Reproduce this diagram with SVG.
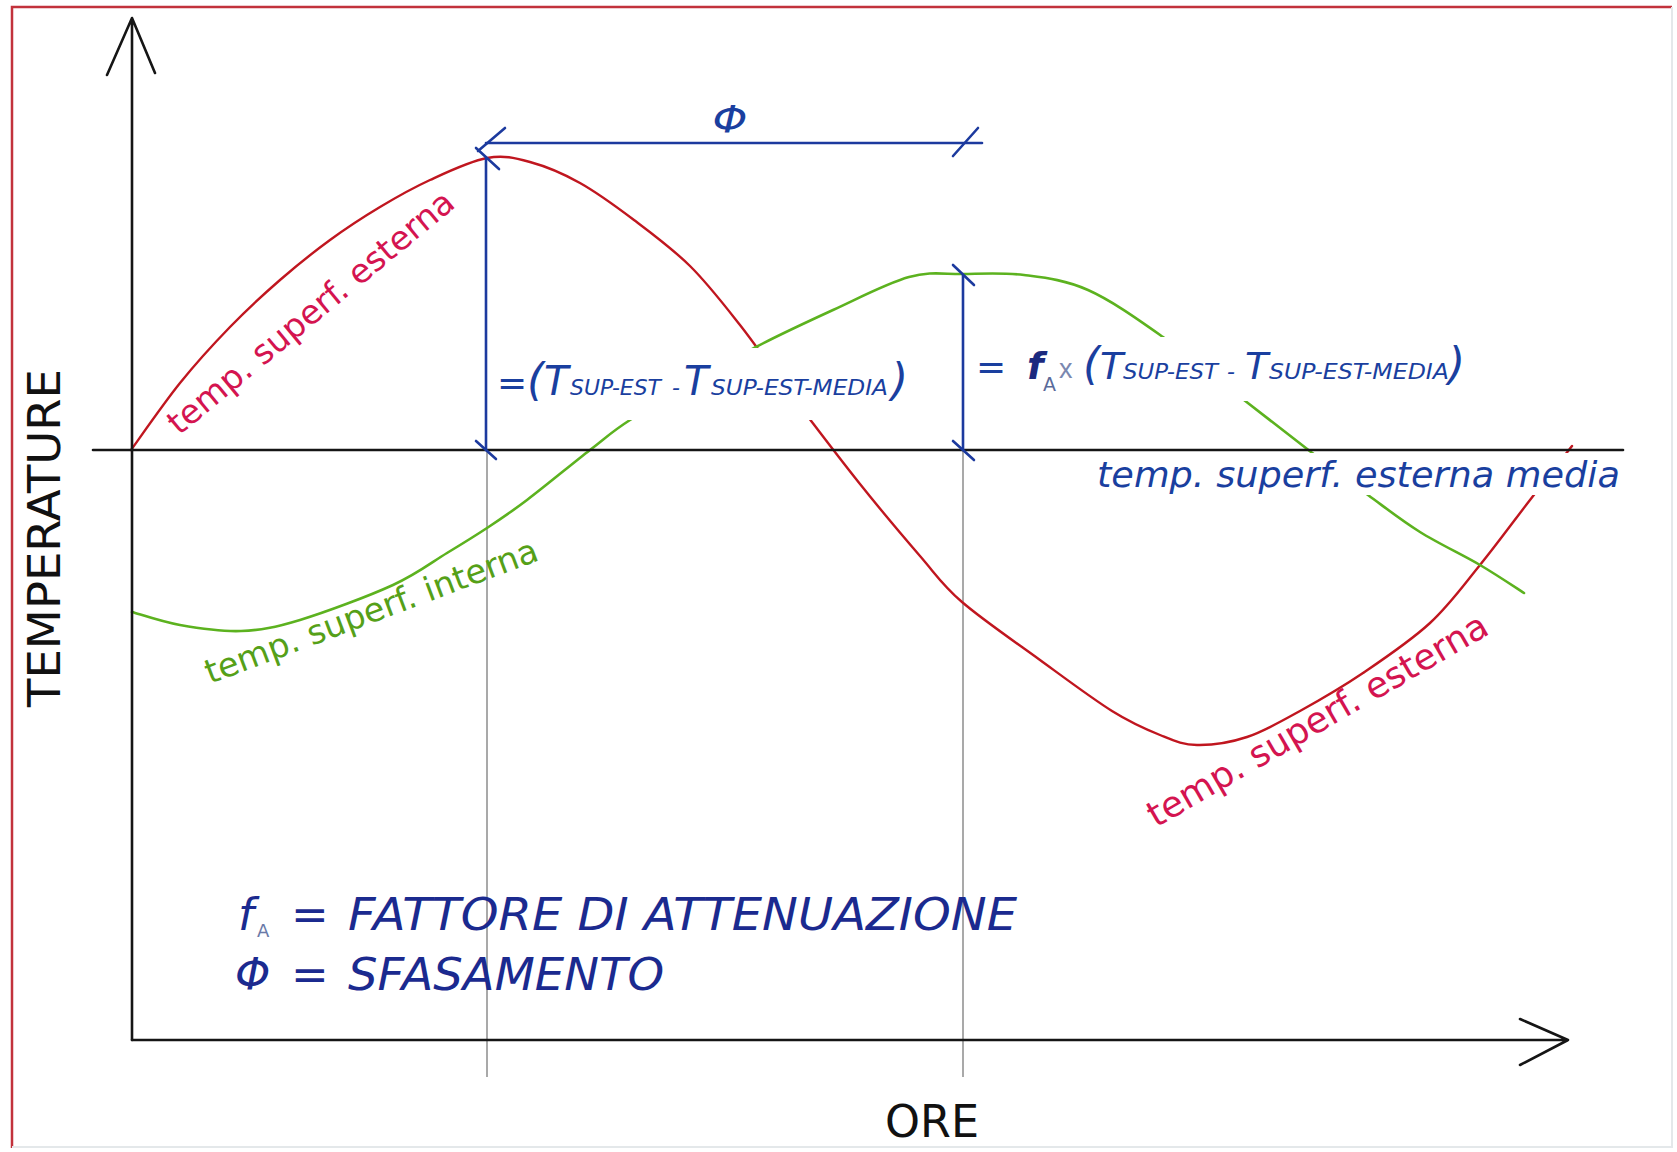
<svg xmlns="http://www.w3.org/2000/svg" width="1677" height="1152" viewBox="0 0 1677 1152">
<style>
text{font-family:"DejaVu Sans","Liberation Sans",sans-serif}
.ax{stroke:#151515;stroke-width:2.6;fill:none;stroke-linecap:round;stroke-linejoin:round}
.dim{stroke:#1c3a9e;stroke-width:2.6;fill:none;stroke-linecap:round}
.guide{stroke:#a9a9a9;stroke-width:2;fill:none}
.red{stroke:#c0161f;stroke-width:2.4;fill:none;stroke-linejoin:round;stroke-linecap:round}
.grn{stroke:#5cb21f;stroke-width:2.6;fill:none;stroke-linejoin:round;stroke-linecap:round}
.bt{fill:#1a3f9f;font-style:italic}
.lg{fill:#1b2a8f;font-style:italic;font-size:45px}
.rl{fill:#d41450}
.gl{fill:#55a018}
.mask{fill:#ffffff}
</style>
<rect x="0" y="0" width="1677" height="1152" fill="#ffffff"/>
<g id="frame">
<path d="M12 1148 V7 H1672" fill="none" stroke="#c2323c" stroke-width="2.5"/>
<path d="M1672 7 V1147 H12" fill="none" stroke="#e4e8ea" stroke-width="2"/>
</g>
<g id="guides">
<line class="guide" x1="487" y1="451" x2="487" y2="1077"/>
<line class="guide" x1="963" y1="451" x2="963" y2="1077"/>
</g>
<g id="curves">
<path id="curve-esterna" class="red" d="M131,450 C139,439 163.5,403.5 180,383 C196.5,362.5 213.3,344.2 230,327 C246.7,309.8 263.3,294.5 280,280 C296.7,265.5 313.3,252.2 330,240 C346.7,227.8 363.3,217 380,207 C396.7,197 412.2,188.2 430,180 C447.8,171.8 470.3,161 487,158 C503.7,155 514.5,157.8 530,162 C545.5,166.2 562.7,173.3 580,183 C597.3,192.7 615.7,206.2 634,220 C652.3,233.8 672.3,248.5 690,266 C707.7,283.5 723.3,303.8 740,325 C756.7,346.2 770,366.5 790,393 C810,419.5 838.3,456.8 860,484 C881.7,511.2 903,536.3 920,556 C937,575.7 942,584.7 962,602 C982,619.3 1015,641.8 1040,660 C1065,678.2 1092,698.5 1112,711 C1132,723.5 1145.8,729.3 1160,735 C1174.2,740.7 1182.5,744.7 1197,745 C1211.5,745.3 1229.8,742.7 1247,737 C1264.2,731.3 1280.7,721.7 1300,711 C1319.3,700.3 1341.3,687.7 1363,673 C1384.7,658.3 1410.5,641 1430,623 C1449.5,605 1463.3,585.5 1480,565 C1496.7,544.5 1514.7,519.8 1530,500 C1545.3,480.2 1565,455 1572,446"/>
<path id="curve-interna" class="grn" d="M132,612 C140,614.2 161.8,621.8 180,625 C198.2,628.2 221,631.8 241,631 C261,630.2 274.7,627.7 300,620 C325.3,612.3 368.5,596.2 393,585 C417.5,573.8 431.3,562.5 447,553 C462.7,543.5 473.7,536.8 487,528 C500.3,519.2 509.8,513 527,500 C544.2,487 572.8,463.3 590,450 C607.2,436.7 611.7,431.7 630,420 C648.3,408.3 679,392.2 700,380 C721,367.8 733.8,358.7 756,347 C778.2,335.3 807.5,321.7 833,310 C858.5,298.3 887.3,283 909,277 C930.7,271 943.8,274.3 963,274 C982.2,273.7 1003.2,272.3 1024,275 C1044.8,277.7 1064.8,279.7 1088,290 C1111.2,300.3 1137,318.7 1163,337 C1189,355.3 1219.3,380.8 1244,400 C1268.7,419.2 1290.3,436.2 1311,452 C1331.7,467.8 1349.8,481.7 1368,495 C1386.2,508.3 1401.3,520.3 1420,532 C1438.7,543.7 1462.7,554.8 1480,565 C1497.3,575.2 1516.7,588.3 1524,593"/>
</g>
<g id="axes">
<line class="ax" x1="93" y1="450" x2="1623" y2="450" stroke-width="3"/>
<path class="ax" d="M132 1040 V18 M107 75 L132 18 L155 73"/>
<path class="ax" d="M132 1040 H1568 M1520 1019 L1568 1040 L1520 1065" stroke-width="3"/>
</g>
<g id="dimensions">
<line class="dim" x1="486" y1="143" x2="982" y2="143"/>
<line class="dim" x1="505" y1="128" x2="478" y2="151"/>
<line class="dim" x1="953" y1="156" x2="978" y2="128"/>
<line class="dim" x1="486" y1="158" x2="486" y2="450"/>
<line class="dim" x1="476" y1="148" x2="499" y2="169"/>
<line class="dim" x1="476" y1="441" x2="496" y2="459"/>
<line class="dim" x1="963" y1="275" x2="963" y2="450"/>
<line class="dim" x1="953" y1="265" x2="974" y2="285"/>
<line class="dim" x1="953" y1="441" x2="974" y2="460"/>
</g>
<g id="masks">
<rect class="mask" x="493" y="348" width="432" height="72"/>
<rect class="mask" x="970" y="337" width="505" height="64"/>
<rect class="mask" x="1090" y="453" width="535" height="42"/>
</g>
<g id="label-phi">
<text class="bt" font-size="37" text-anchor="middle" transform="translate(730,132) scale(1.2,1)">Φ</text>
</g>
<g id="label-ampiezza-est">
<text class="bt" y="395"><tspan x="497" font-size="36">=</tspan><tspan x="527" font-size="44">(</tspan><tspan x="544" font-size="40">T</tspan><tspan x="570" font-size="22" textLength="91" lengthAdjust="spacingAndGlyphs">SUP-EST</tspan><tspan x="672" font-size="22">-</tspan><tspan x="684" font-size="40">T</tspan><tspan x="711" font-size="22" textLength="177" lengthAdjust="spacingAndGlyphs">SUP-EST-MEDIA</tspan><tspan x="891" font-size="44">)</tspan></text>
</g>
<g id="label-ampiezza-int">
<text class="bt" y="379"><tspan x="976" font-size="36">=</tspan><tspan x="1027" font-size="38" font-weight="bold" fill="#1b2a7f">f</tspan><tspan x="1043" y="391" font-size="19" font-style="normal" fill="#5a6a9a">A</tspan><tspan x="1059" y="378" font-size="27" font-style="normal" fill="#7a88b0" font-family="Liberation Sans, sans-serif">x</tspan><tspan x="1083" y="379" font-size="44">(</tspan><tspan x="1100" font-size="38">T</tspan><tspan x="1123" font-size="22" textLength="95" lengthAdjust="spacingAndGlyphs">SUP-EST</tspan><tspan x="1227" font-size="22">-</tspan><tspan x="1245" font-size="38">T</tspan><tspan x="1269" font-size="22" textLength="180" lengthAdjust="spacingAndGlyphs">SUP-EST-MEDIA</tspan><tspan x="1448" font-size="44">)</tspan></text>
</g>
<g id="label-media">
<text class="bt" x="1097" y="487" font-size="35" textLength="523" lengthAdjust="spacingAndGlyphs">temp. superf. esterna media</text>
</g>
<g id="label-esterna-1">
<text class="rl" font-size="33.5" transform="translate(179,436) rotate(-39.6)">temp. superf. esterna</text>
</g>
<g id="label-esterna-2">
<text class="rl" font-size="36" transform="translate(1156,828) rotate(-30.2)">temp. superf. esterna</text>
</g>
<g id="label-interna">
<text class="gl" font-size="33.5" transform="translate(210,684) rotate(-20.6)">temp. superf. interna</text>
</g>
<g id="label-temperature">
<text font-size="45" fill="#111" transform="translate(60,707) rotate(-90)" textLength="338" lengthAdjust="spacingAndGlyphs">TEMPERATURE</text>
</g>
<g id="label-ore">
<text x="885" y="1137" font-size="44" fill="#111" textLength="94" lengthAdjust="spacingAndGlyphs">ORE</text>
</g>
<g id="legend">
<text class="lg" y="930"><tspan x="238">f</tspan><tspan x="257" y="937" font-size="18" font-style="normal" fill="#6a7aa8">A</tspan><tspan x="291" y="930">=</tspan><tspan x="348" textLength="669" lengthAdjust="spacingAndGlyphs">FATTORE DI ATTENUAZIONE</tspan></text>
<text class="lg" y="990"><tspan x="235">Φ</tspan><tspan x="291">=</tspan><tspan x="348" textLength="316" lengthAdjust="spacingAndGlyphs">SFASAMENTO</tspan></text>
</g>
</svg>
